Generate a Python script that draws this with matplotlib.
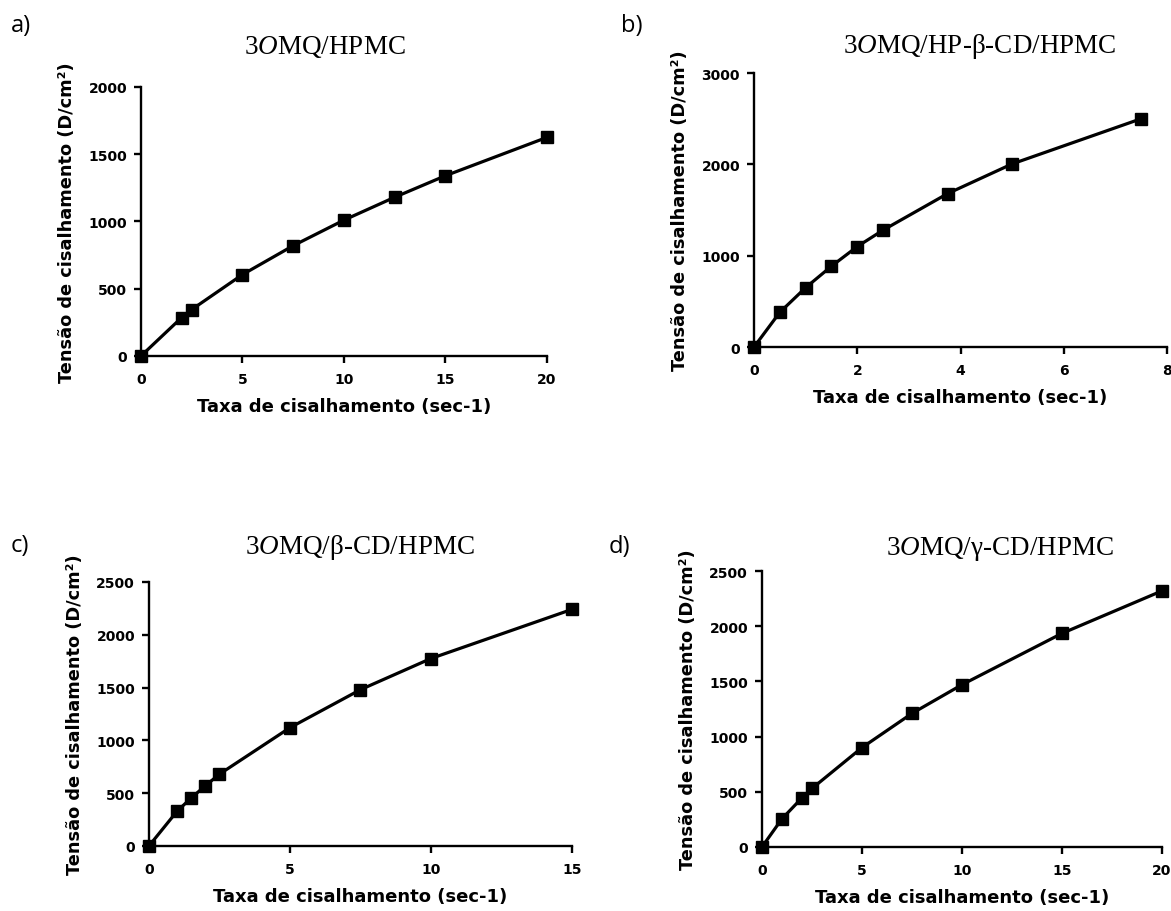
import matplotlib
matplotlib.use('Agg')
import matplotlib.pyplot as plt

## data
# a) 3OMQ/HPMC
xa = [0, 2, 2.5, 5, 7.5, 10, 12.5, 15, 20]
ya = [0, 285, 345, 605, 820, 1010, 1180, 1340, 1625]
# b) 3OMQ/HP-beta-CD/HPMC
xb = [0, 0.5, 1, 1.5, 2, 2.5, 3.75, 5, 7.5]
yb = [0, 380, 650, 885, 1100, 1280, 1680, 2005, 2500]
# c) 3OMQ/beta-CD/HPMC
xc = [0, 1, 1.5, 2, 2.5, 5, 7.5, 10, 15]
yc = [0, 330, 455, 570, 680, 1120, 1480, 1775, 2240]
# d) 3OMQ/gamma-CD/HPMC
xd = [0, 1, 2, 2.5, 5, 7.5, 10, 15, 20]
yd = [0, 255, 445, 530, 900, 1210, 1470, 1935, 2320]

titles = ['3$\\mathit{O}$MQ/HPMC', '3$\\mathit{O}$MQ/HP-β-CD/HPMC',
          '3$\\mathit{O}$MQ/β-CD/HPMC', '3$\\mathit{O}$MQ/γ-CD/HPMC']
letters = ['a)', 'b)', 'c)', 'd)']
xticks = [[0, 5, 10, 15, 20], [0, 2, 4, 6, 8], [0, 5, 10, 15], [0, 5, 10, 15, 20]]
yticks = [[0, 500, 1000, 1500, 2000], [0, 1000, 2000, 3000],
          [0, 500, 1000, 1500, 2000, 2500], [0, 500, 1000, 1500, 2000, 2500]]
xlabel = 'Taxa de cisalhamento (sec-1)'
ylabel = 'Tensão de cisalhamento (D/cm²)'

plt.rcParams['font.family'] = ['DejaVu Sans']
plt.rcParams['mathtext.fontset'] = 'custom'
plt.rcParams['mathtext.rm'] = 'Liberation Serif'
plt.rcParams['mathtext.it'] = 'Liberation Serif:italic:normal'

fig = plt.figure(figsize=(11.71, 9.12), dpi=100)

# axes boxes in figure fractions (left, bottom, width, height)
boxes = [[0.1204, 0.6086, 0.3467, 0.2950],
         [0.6439, 0.6184, 0.3527, 0.3004],
         [0.1272, 0.0713, 0.3612, 0.2895],
         [0.6507, 0.0702, 0.3416, 0.3026]]
letter_pos = [(0.009, 0.972), (0.530, 0.972), (0.009, 0.401), (0.520, 0.400)]
title_pos = [(0.2775, 0.9485), (0.8369, 0.9485), (0.3074, 0.4002), (0.854, 0.398)]

series = [(xa, ya), (xb, yb), (xc, yc), (xd, yd)]

for i in range(4):
    ax = fig.add_axes(boxes[i])
    x, y = series[i]
    ax.plot(x, y, color='black', lw=2.3, marker='s', markersize=8,
            clip_on=False, zorder=3)
    ax.set_xlim(xticks[i][0], xticks[i][-1])
    ax.set_ylim(yticks[i][0], yticks[i][-1])
    ax.set_xticks(xticks[i])
    ax.set_yticks(yticks[i])
    ax.spines['top'].set_visible(False)
    ax.spines['right'].set_visible(False)
    for s in ['left', 'bottom']:
        ax.spines[s].set_linewidth(1.7)
    ax.tick_params(width=1.7, length=5, labelsize=10, direction='out')
    ax.tick_params(axis='x', pad=6.5)
    ax.tick_params(axis='y', pad=5)
    for lab in ax.get_xticklabels() + ax.get_yticklabels():
        lab.set_fontweight('bold')
    ax.set_xlabel(xlabel, fontsize=13, fontweight='bold', labelpad=8)
    ax.set_ylabel(ylabel, fontsize=12.8, fontweight='bold', labelpad=9)
    fig.text(title_pos[i][0], title_pos[i][1], titles[i], fontsize=19.5,
             family='Liberation Serif', fontweight='normal',
             ha='center', va='center')
    fig.text(letter_pos[i][0], letter_pos[i][1], letters[i], fontsize=17,
             family='Open Sans', fontweight='normal', ha='left', va='center')

plt.savefig('out.png', dpi=100)
